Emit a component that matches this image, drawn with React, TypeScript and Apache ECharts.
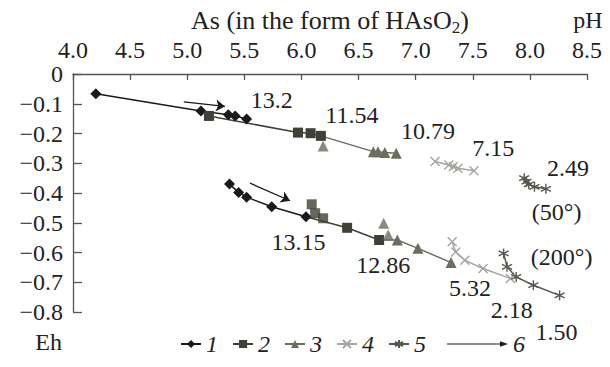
import React, { useEffect, useRef } from "react";
import * as echarts from "echarts";

const FONT = "Times New Roman";

// axes
const X_MIN = 4.0;
const X_MAX = 8.5;
const X_STEP = 0.5;
const Y_MIN = -0.8;
const Y_MAX = 0;
const Y_STEP = 0.1;

// data: [pH, Eh]
const s1Upper = [[4.2, -0.066], [5.12, -0.124], [5.36, -0.137], [5.42, -0.141], [5.52, -0.151]];
const s1Lower = [[5.37, -0.37], [5.45, -0.398], [5.52, -0.414], [5.74, -0.446], [6.04, -0.48]];
const s2Upper = [[5.19, -0.141], [5.97, -0.197], [6.08, -0.199], [6.17, -0.208]];
const s2Lower = [[6.09, -0.438], [6.12, -0.468], [6.19, -0.485], [6.4, -0.517], [6.68, -0.558]];
const s3Upper = [[6.19, -0.242], [6.63, -0.261], [6.67, -0.261], [6.73, -0.264], [6.83, -0.266]];
const s3Lower = [[6.72, -0.502], [6.76, -0.541], [6.84, -0.558], [7.02, -0.586], [7.31, -0.634]];
const s4Upper = [[7.17, -0.294], [7.29, -0.306], [7.33, -0.311], [7.37, -0.317], [7.51, -0.325]];
const s4Lower = [[7.32, -0.564], [7.35, -0.598], [7.43, -0.626], [7.59, -0.654], [7.83, -0.687]];
const s5Upper = [[7.95, -0.35], [7.97, -0.362], [7.99, -0.371], [8.04, -0.379], [8.14, -0.386]];
const s5Lower = [[7.77, -0.603], [7.8, -0.648], [7.88, -0.682], [8.03, -0.71], [8.26, -0.744]];
const arrows6 = [
  [[4.97, -0.094], [5.33, -0.109]],
  [[5.55, -0.367], [5.9, -0.426]],
];

// annotations: text and its place in data coordinates
const annotations: { text: string; at: number[] }[] = [
  { text: "13.2", at: [5.741, -0.087] },
  { text: "11.54", at: [6.441, -0.137] },
  { text: "10.79", at: [7.109, -0.191] },
  { text: "7.15", at: [7.68, -0.249] },
  { text: "2.49", at: [8.333, -0.316] },
  { text: "(50°)", at: [8.234, -0.463] },
  { text: "(200°)", at: [8.278, -0.615] },
  { text: "13.15", at: [5.974, -0.564] },
  { text: "12.86", at: [6.717, -0.643] },
  { text: "5.32", at: [7.476, -0.721] },
  { text: "2.18", at: [7.841, -0.794] },
  { text: "1.50", at: [8.234, -0.867] },
];

const CROSS = "path://M0,0L10,10M10,0L0,10";
const STAR = "path://M5,0L5,10M0.7,2.5L9.3,7.5M0.7,7.5L9.3,2.5";

const styles: Record<string, any> = {
  "1": { color: "#1a1a1a", symbol: "diamond", size: 11, stroke: false },
  "2": { color: "#3e4137", symbol: "rect", size: 10, stroke: false },
  "3": { color: "#6a6d5f", symbol: "triangle", size: 11, stroke: false },
  "4": { color: "#a4a59f", symbol: CROSS, size: 9, stroke: true },
  "5": { color: "#55584d", symbol: STAR, size: 10, stroke: true },
};

// chains: points of a series, an optional start point taken from the previous series,
// and the indices of points that sit off the drawn line
const chains: { name: string; pts: number[][]; start: number[] | null; off: number[] }[] = [
  { name: "1", pts: s1Upper, start: null, off: [] },
  { name: "1", pts: s1Lower, start: null, off: [] },
  { name: "2", pts: s2Upper, start: null, off: [] },
  { name: "2", pts: s2Lower, start: s1Lower[s1Lower.length - 1], off: [0, 1, 2] },
  { name: "3", pts: s3Upper, start: s2Upper[s2Upper.length - 1], off: [0] },
  { name: "3", pts: s3Lower, start: s2Lower[s2Lower.length - 1], off: [0, 1] },
  { name: "4", pts: s4Upper, start: null, off: [] },
  { name: "4", pts: s4Lower, start: null, off: [] },
  { name: "5", pts: s5Upper, start: null, off: [] },
  { name: "5", pts: s5Lower, start: null, off: [] },
];

function itemStyleFor(st: any) {
  return st.stroke
    ? { color: st.color, borderColor: st.color, borderWidth: 1.4 }
    : { color: st.color };
}

function buildSeries() {
  const lineSeries: any[] = [];
  const scatterSeries: any[] = [];
  chains.forEach((c) => {
    const st = styles[c.name];
    const data: any[] = [];
    if (c.start) data.push({ value: c.start, symbol: "none" });
    c.pts.forEach((p, i) => {
      if (!c.off.includes(i)) data.push({ value: p });
    });
    lineSeries.push({
      type: "line",
      name: c.name,
      data,
      symbol: st.symbol,
      symbolSize: st.size,
      showSymbol: true,
      lineStyle: { color: st.color, width: 1.5 },
      itemStyle: itemStyleFor(st),
      silent: true,
      z: 3,
    });
    const offPts = c.pts.filter((_, i) => c.off.includes(i));
    if (offPts.length) {
      scatterSeries.push({
        type: "scatter",
        name: c.name,
        data: offPts,
        symbol: st.symbol,
        symbolSize: st.size,
        itemStyle: itemStyleFor(st),
        silent: true,
        z: 4,
      });
    }
  });
  const arrowSeries = {
    type: "lines",
    name: "6",
    coordinateSystem: "cartesian2d",
    data: arrows6.map((a) => ({ coords: a })),
    lineStyle: { color: "#1a1a1a", width: 1.3, opacity: 1, curveness: 0 },
    symbol: ["none", "arrow"],
    symbolSize: 9,
    silent: true,
    z: 5,
  };
  return [...lineSeries, ...scatterSeries, arrowSeries];
}

export default function App() {
  const ref = useRef<HTMLDivElement>(null);
  useEffect(() => {
    if (!ref.current) return;
    document.body.style.margin = "0";
    const chart = echarts.init(ref.current, undefined, { renderer: "svg" });
    const textStyle = { fontFamily: FONT, fontSize: 24, color: "#222" };
    chart.setOption({
      animation: false,
      backgroundColor: "#ffffff",
      grid: { left: 73, top: 74, right: 23, bottom: 55, containLabel: false },
      xAxis: {
        type: "value",
        position: "top",
        min: X_MIN,
        max: X_MAX,
        interval: X_STEP,
        axisLine: { show: true, onZero: false, lineStyle: { color: "#555", width: 1.3 } },
        axisTick: { show: true, inside: true, length: 6, lineStyle: { color: "#555", width: 1.3 } },
        axisLabel: { ...textStyle, margin: 12, formatter: (v: number) => v.toFixed(1) },
        splitLine: { show: false },
      },
      yAxis: {
        type: "value",
        min: Y_MIN,
        max: Y_MAX,
        interval: Y_STEP,
        axisLine: { show: true, onZero: false, lineStyle: { color: "#555", width: 1.3 } },
        axisTick: { show: true, inside: true, length: 9, lineStyle: { color: "#555", width: 1.3 } },
        axisLabel: {
          ...textStyle,
          margin: 10,
          formatter: (v: number) => (Math.abs(v) < 1e-9 ? "0" : "\u2212" + Math.abs(v).toFixed(1)),
        },
        splitLine: { show: false },
      },
      legend: [
        {
          data: ["1", "2", "3", "4", "5"],
          left: 180,
          top: 332,
          itemWidth: 20,
          itemHeight: 10,
          itemGap: 14,
          padding: 0,
          selectedMode: false,
          textStyle: { fontFamily: FONT, fontSize: 24, fontStyle: "italic", color: "#222" },
        },
        {
          data: [{ name: "6", icon: "path://M0,4.6L53,4.6L53,2.2L61,5L53,7.8L53,5.4L0,5.4Z" }],
          left: 447,
          top: 332,
          itemWidth: 61,
          itemHeight: 10,
          padding: 0,
          selectedMode: false,
          itemStyle: { color: "#1a1a1a", borderWidth: 0 },
          textStyle: { fontFamily: FONT, fontSize: 24, fontStyle: "italic", color: "#222" },
        },
      ],
      series: buildSeries(),
    });

    const graphics: any[] = [
      {
        type: "text",
        x: 330,
        y: 20,
        style: {
          text: "As (in the form of HAsO{sub|2})",
          rich: { sub: { fontFamily: FONT, fontSize: 17, verticalAlign: "bottom", lineHeight: 15, fill: "#222" } },
          fontFamily: FONT,
          fontSize: 26,
          lineHeight: 32,
          fill: "#222",
          align: "center",
          verticalAlign: "middle",
        },
      },
      {
        type: "text",
        x: 588,
        y: 20,
        style: { text: "pH", fontFamily: FONT, fontSize: 24, fill: "#222", align: "center", verticalAlign: "middle" },
      },
      {
        type: "text",
        x: 62,
        y: 342,
        style: { text: "Eh", fontFamily: FONT, fontSize: 24, fill: "#222", align: "right", verticalAlign: "middle" },
      },
    ];
    annotations.forEach((a) => {
      const p = chart.convertToPixel({ gridIndex: 0 }, a.at) as number[];
      graphics.push({
        type: "text",
        x: p[0],
        y: p[1],
        style: { text: a.text, fontFamily: FONT, fontSize: 24, fill: "#222", align: "center", verticalAlign: "middle" },
      });
    });
    chart.setOption({ graphic: graphics });
    return () => chart.dispose();
  }, []);
  return (
    <div
      ref={ref}
      style={{ position: "fixed", left: 0, top: 0, width: 610, height: 367, background: "#fff" }}
    />
  );
}
